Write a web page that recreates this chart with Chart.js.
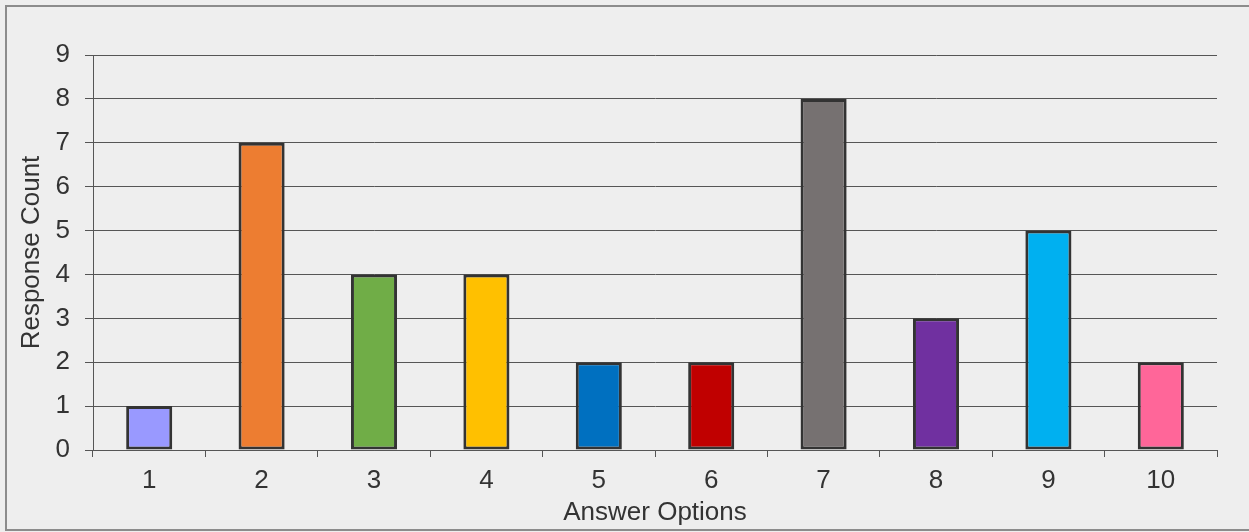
<!DOCTYPE html>
<html>
<head>
<meta charset="utf-8">
<script src="https://cdn.jsdelivr.net/npm/chart.js@4/dist/chart.umd.min.js"></script>
<style>
  html, body { margin: 0; padding: 0; background: #eeeeee; }
  #wrap { position: relative; width: 1249px; height: 532px; overflow: hidden; }
  #frame { position: absolute; left: 5px; top: 5px; width: 1260px; height: 522px; border: 2px solid #8c8c8c; border-right: none; }
  canvas { position: absolute; left: 0; top: 0; }
</style>
</head>
<body>
<div id="wrap">
  <div id="frame"></div>
  <canvas id="responseChart" width="1249" height="532"></canvas>
</div>
<script>
const OPTIONS = ['1', '2', '3', '4', '5', '6', '7', '8', '9', '10'];
const COUNTS = [1, 7, 4, 4, 2, 2, 8, 3, 5, 2];
const BAR_COLORS = ['#9999ff', '#ed7d31', '#70ad47', '#ffc000', '#0070c0', '#c00000', '#767171', '#7030a0', '#00b0f0', '#ff6699'];

const LINE = '#555555';
const TEXT = '#333333';
const FONT = { family: '"Liberation Sans", Arial, sans-serif', size: 26 };

const ctx = document.getElementById('responseChart').getContext('2d');
new Chart(ctx, {
  type: 'bar',
  data: {
    labels: OPTIONS,
    datasets: [{
      data: COUNTS,
      backgroundColor: BAR_COLORS,
      borderColor: '#333333',
      borderWidth: 3,
      borderSkipped: false,
      categoryPercentage: 1,
      barPercentage: 0.41,
    }],
  },
  options: {
    responsive: false,
    animation: false,
    layout: { padding: { top: 55, right: 32, left: 0, bottom: 0 } },
    plugins: { legend: { display: false }, tooltip: { enabled: false } },
    scales: {
      x: {
        grid: { drawOnChartArea: false, drawTicks: true, tickLength: 7, color: LINE, lineWidth: 1 },
        border: { color: LINE, width: 1 },
        ticks: { color: TEXT, font: FONT, padding: 8, maxRotation: 0 },
        title: { display: true, text: 'Answer Options', color: TEXT, font: FONT, padding: { top: 0, bottom: 4 } },
        afterFit: (scale) => { scale.height = 82; },
      },
      y: {
        min: 0,
        max: 9,
        ticks: { stepSize: 1, color: TEXT, font: FONT, padding: 15 },
        grid: { color: LINE, lineWidth: 1, tickLength: 8 },
        border: { color: LINE, width: 1 },
        title: { display: true, text: 'Response Count', color: TEXT, font: FONT, padding: { top: 16, bottom: 0 } },
        afterFit: (scale) => { scale.width = 93; },
      },
    },
  },
});
</script>
</body>
</html>
